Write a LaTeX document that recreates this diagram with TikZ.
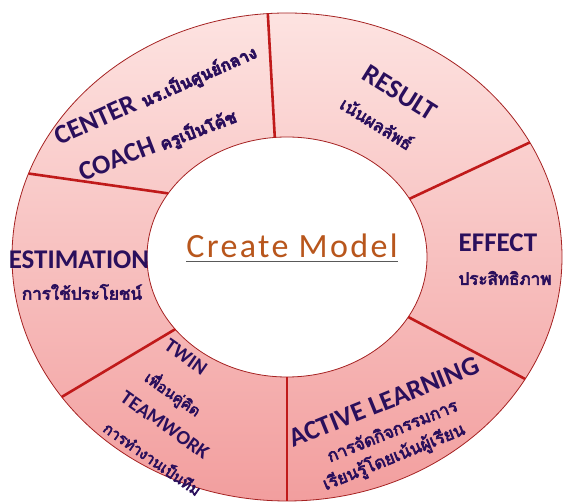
\documentclass[tikz,border=0pt]{standalone}
\usepackage{fontspec}
\newfontfamily\thaifont[Script=Thai, FakeBold=4]{Loma}
\newfontfamily\latinfont{Carlito}
\newfontfamily\titlefont[LetterSpace=7]{Carlito}
\newcommand{\thaitext}[1]{{\thaifont\fontsize{17}{20}\selectfont #1}}

\definecolor{ringtop}{HTML}{FDE3E1}
\definecolor{ringbottom}{HTML}{F29E9E}
\definecolor{ringline}{HTML}{A52222}
\definecolor{sepline}{HTML}{C01A1A}
\definecolor{labelink}{HTML}{2A0F5C}
\definecolor{titleink}{HTML}{B8561C}

\tikzset{
	en/.style={text=labelink, font=\latinfont\bfseries\fontsize{27}{30}\selectfont, inner sep=0pt},
	th/.style={text=labelink, font=\thaifont\fontsize{17}{20}\selectfont, inner sep=0pt},
	ensmall/.style={en, font=\latinfont\bfseries\fontsize{20}{24}\selectfont},
	thsmall/.style={th, font=\thaifont\fontsize{15}{18}\selectfont},
	separator/.style={draw=sepline, line width=2.6pt},
	title/.style={text=titleink, font=\titlefont\fontsize{34}{38}\selectfont, inner sep=0pt},
}

\begin{document}
\begin{tikzpicture}[x=1pt,y=1pt]
	\useasboundingbox (-287,-245) rectangle (279,257);
	\clip (-287,-245) rectangle (279,257);

	\begin{scope}
		\shade[top color=ringtop, bottom color=ringbottom, even odd rule]
			(0,0) ellipse [x radius=275pt, y radius=244pt]
			(0,0) ellipse [x radius=140pt, y radius=120pt];
		\draw[ringline, line width=0.8pt]
			(0,0) ellipse [x radius=275pt, y radius=244pt]
			(0,0) ellipse [x radius=140pt, y radius=120pt];
		\foreach \n/\ai/\ao in {1/95/94, 2/29/28, 3/-30/-30, 4/-90/-90, 5/217/215, 6/148/160} {
			\coordinate (in\n) at (\ai:140pt and 120pt);
			\coordinate (out\n) at (\ao:275pt and 244pt);
			\draw[separator] (in\n) -- (out\n);
		}
	\end{scope}

	\node[title, anchor=base] (model) at (5,-1) {Create Model};
	\draw[black!65, line width=1pt] ([yshift=-4pt]model.base west) -- ([yshift=-4pt]model.base east);

	\begin{scope}
		\node[en, rotate=24] (center1) at (-131,162) {CENTER \thaitext{นร.เป็นศูนย์กลาง}};
		\node[en, rotate=21] (center2) at (-129,112) {COACH \thaitext{ครูเป็นโค้ช}};

		\node[en, rotate=-32] (result1) at (113,164) {RESULT};
		\node[th, rotate=-32] (result2) at (90,134) {เน้นผลลัพธ์};

		\node[en] (effect1) at (211,14) {EFFECT};
		\node[th] (effect2) at (218,-21) {ประสิทธิภาพ};

		\node[en, rotate=22] (active1) at (97,-145) {ACTIVE LEARNING};
		\node[th, rotate=22] (active2) at (105,-173) {การจัดกิจกรรมการ};
		\node[th, rotate=22] (active3) at (107,-200) {เรียนรู้โดยเน้นผู้เรียน};

		\node[ensmall, rotate=-35] (twin1) at (-101,-100) {TWIN};
		\node[thsmall, rotate=-35] (twin2) at (-114,-137) {เพื่อนคู่คิด};
		\node[ensmall, rotate=-35] (twin3) at (-122,-168) {TEAMWORK};
		\node[thsmall, rotate=-35] (twin4) at (-134,-201) {การทำงานเป็นทีม};

		\node[en] (estimate1) at (-208,-3) {ESTIMATION};
		\node[th] (estimate2) at (-205,-35) {การใช้ประโยชน์};
	\end{scope}
\end{tikzpicture}
\end{document}
